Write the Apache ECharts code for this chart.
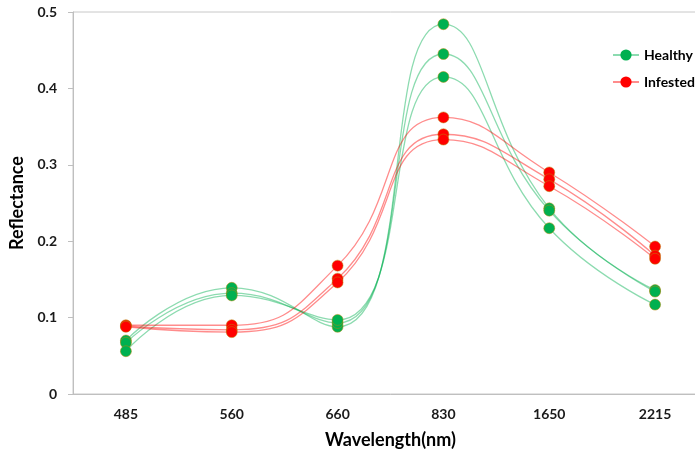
<!DOCTYPE html>
<html>
<head>
<meta charset="utf-8">
<script src="https://cdn.jsdelivr.net/npm/echarts@6/dist/echarts.min.js"></script>
<style>html,body{margin:0;padding:0;background:#fff;overflow:hidden;}#c{width:708px;height:454px;}</style>
</head>
<body>
<div id="c"></div>
<script>
var categories = ['485', '560', '660', '830', '1650', '2215'];
var healthy1 = [0.070, 0.139, 0.088, 0.484, 0.243, 0.136];
var healthy2 = [0.067, 0.132, 0.093, 0.445, 0.240, 0.134];
var healthy3 = [0.056, 0.129, 0.097, 0.415, 0.217, 0.117];
var infested1 = [0.090, 0.090, 0.168, 0.362, 0.290, 0.193];
var infested2 = [0.089, 0.084, 0.151, 0.340, 0.281, 0.181];
var infested3 = [0.088, 0.081, 0.146, 0.333, 0.272, 0.177];
var yTicks = [0, 0.1, 0.2, 0.3, 0.4, 0.5];

var FONT = 'Lato, "Open Sans", sans-serif';
var GREEN = '#00B050', RED = '#FF0000';

function mk(name, data, color, lineColor) {
  return {
    name: name, type: 'line', data: data, smooth: 0.5,
    symbol: 'circle', symbolSize: 11,
    itemStyle: { color: color, borderColor: '#b8860b', borderWidth: 0.5 },
    lineStyle: { color: lineColor, width: 1.3 },
    emphasis: { disabled: true }
  };
}

var chart = echarts.init(document.getElementById('c'));
chart.setOption({
  animation: false,
  grid: { left: 73, top: 12, right: 0, bottom: 58, show: true, borderColor: '#c8c8c8', borderWidth: 1 },
  legend: {
    data: ['Healthy', 'Infested'], orient: 'vertical', left: 607, top: 43,
    itemWidth: 26, itemHeight: 14, itemGap: 13,
    itemStyle: { borderWidth: 0 },
    textStyle: { fontFamily: FONT, fontWeight: 'bold', fontSize: 14, color: '#000' }
  },
  xAxis: {
    type: 'category', data: categories, boundaryGap: true,
    axisLine: { lineStyle: { color: '#bfbfbf' } },
    axisTick: { alignWithLabel: true, length: 5, lineStyle: { color: '#bfbfbf' } },
    axisLabel: { fontFamily: FONT, fontWeight: 'bold', fontSize: 14, color: '#1a1a1a', margin: 13 },
    name: 'Wavelength(nm)', nameLocation: 'middle', nameGap: 37,
    nameTextStyle: { fontFamily: FONT, fontWeight: 'bold', fontSize: 18, color: '#000' }
  },
  yAxis: {
    type: 'value', min: yTicks[0], max: yTicks[yTicks.length - 1], interval: 0.1,
    axisLine: { show: true, lineStyle: { color: '#bfbfbf' } },
    axisTick: { show: true, length: 5, lineStyle: { color: '#bfbfbf' } },
    splitLine: { show: false },
    axisLabel: { fontFamily: FONT, fontWeight: 'bold', fontSize: 14, color: '#1a1a1a', margin: 16 },
    name: 'Reflectance', nameLocation: 'middle', nameGap: 44, nameRotate: 90,
    nameTextStyle: { fontFamily: FONT, fontWeight: 'bold', fontSize: 18, color: '#000' }
  },
  series: [
    mk('Healthy', healthy1, GREEN, 'rgba(0,176,80,0.45)'),
    mk('Healthy', healthy2, GREEN, 'rgba(0,176,80,0.45)'),
    mk('Healthy', healthy3, GREEN, 'rgba(0,176,80,0.45)'),
    mk('Infested', infested1, RED, 'rgba(255,0,0,0.45)'),
    mk('Infested', infested2, RED, 'rgba(255,0,0,0.45)'),
    mk('Infested', infested3, RED, 'rgba(255,0,0,0.45)')
  ]
});
</script>
</body>
</html>
